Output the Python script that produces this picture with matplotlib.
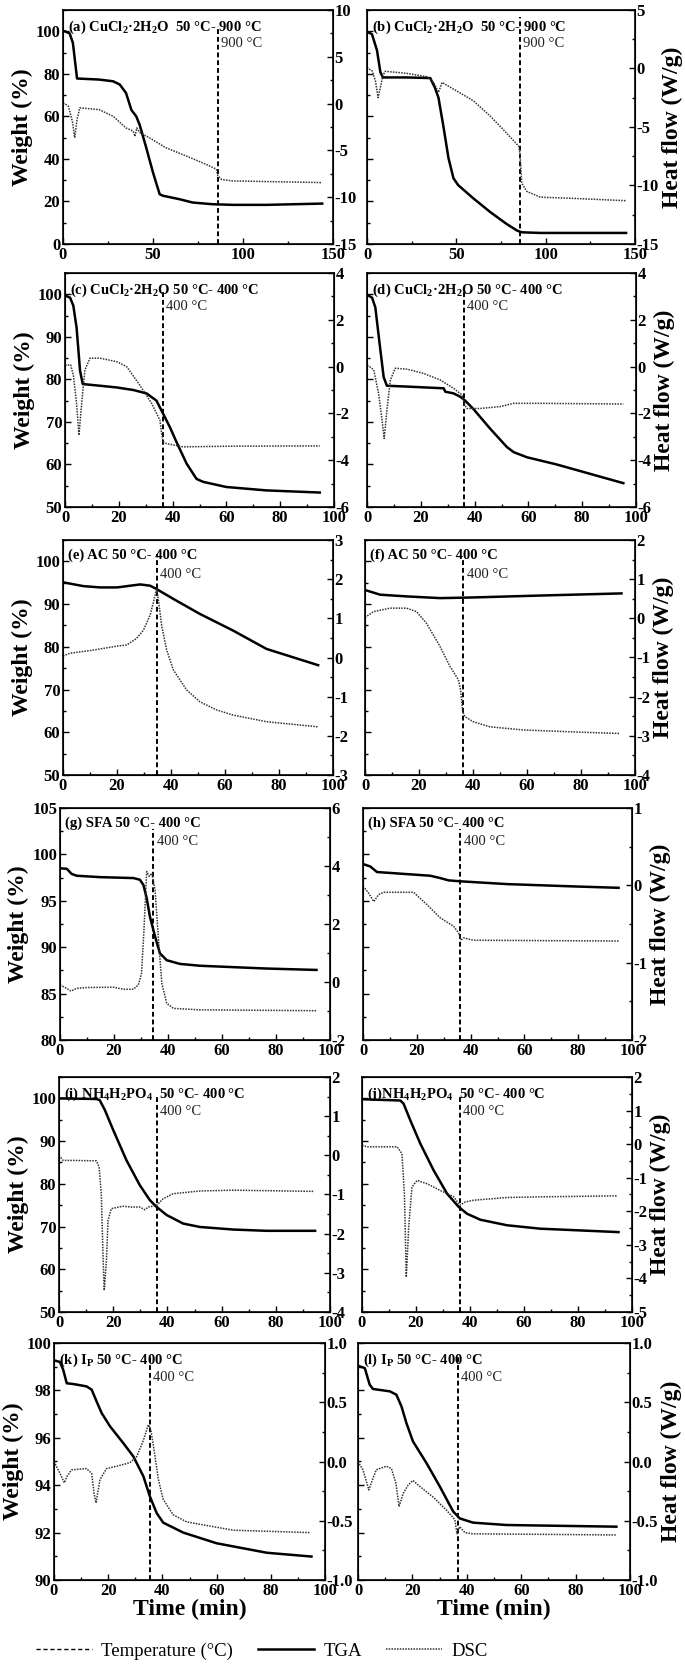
import numpy as np
import matplotlib
matplotlib.use('Agg')
import matplotlib.pyplot as plt
from matplotlib.ticker import MultipleLocator, FormatStrFormatter
from matplotlib.lines import Line2D

plt.rcParams['font.family'] = ['Liberation Serif', 'DejaVu Serif']
plt.rcParams['mathtext.fontset'] = 'custom'
plt.rcParams['mathtext.rm'] = 'Liberation Serif:bold'
plt.rcParams['mathtext.it'] = 'Liberation Serif:bold'
plt.rcParams['mathtext.bf'] = 'Liberation Serif:bold'
plt.rcParams['axes.unicode_minus'] = False

# ---------------- data ----------------
# (a)
a_tga_t = [0, 1, 3.7, 5.5, 7.8, 20, 27.8, 31.5, 35, 38, 40.7, 42.6, 46, 50, 53.7, 55.5, 65, 72, 83, 94.4, 113, 144]
a_tga_w = [100, 100, 99, 94.5, 77.8, 77.3, 76.5, 75, 71, 63, 60, 56, 46, 33.6, 23.4, 22.7, 21, 19.5, 18.7, 18.4, 18.4, 19]
a_dsc_t = [0, 1, 3, 5.2, 6.5, 7.8, 9.3, 20, 27.8, 35, 39, 40, 41, 42.6, 48, 57, 68.5, 79.6, 85.2, 86, 88, 94, 144]
a_dsc_h = [0, 0, -0.28, -1.88, -3.65, -1.7, -0.46, -0.64, -1.35, -2.6, -2.94, -3.5, -2.6, -3.1, -3.65, -4.7, -5.6, -6.5, -7.0, -7.7, -8.1, -8.26, -8.44]
# (b)
b_tga_t = [0, 1, 2.8, 5.6, 7.5, 8.9, 22, 35.4, 38, 40, 42.9, 45.6, 48.4, 51, 59.6, 69, 78, 84, 86.6, 97, 145]
b_tga_w = [99.6, 99.4, 98.6, 91, 80.7, 78.3, 78.3, 78, 73.5, 68.8, 54.6, 40.4, 30.9, 27.7, 21.4, 15, 9.5, 6.3, 5.5, 5.2, 5.2]
b_dsc_t = [0, 1, 2.8, 4.7, 6.2, 7.5, 8.9, 10.2, 22, 33.5, 37.3, 40, 42, 50, 59.6, 69, 78, 85, 85.7, 86.6, 89.4, 97, 115.5, 145]
b_dsc_h = [0.1, -0.04, -0.18, -1.04, -2.48, -1.6, -0.6, -0.24, -0.41, -0.7, -1.19, -2.05, -1.19, -1.9, -2.77, -4.07, -5.5, -6.66, -7.4, -9.8, -10.5, -11.0, -11.1, -11.3]
# (c)
c_tga_t = [0, 0.4, 1.9, 3.1, 4.3, 5.6, 6.6, 13, 19.2, 25.4, 30.3, 34, 36.5, 39, 41.5, 45.2, 48.9, 51.4, 60, 74.9, 94.7]
c_tga_w = [99.7, 99.6, 99.2, 97.3, 92.2, 82, 78.9, 78.5, 78.1, 77.5, 76.7, 75, 71.9, 68.75, 65.2, 60.2, 56.6, 55.9, 54.7, 53.9, 53.4]
c_dsc_t = [0, 0.6, 2.1, 3.1, 4.3, 5.2, 6.2, 7.4, 9.3, 13, 19.2, 22.9, 27.8, 32.2, 35.3, 35.9, 36.5, 37.7, 43.9, 62.5, 94.7]
c_dsc_h = [0.05, 0.07, 0.07, -0.36, -1.57, -2.93, -1.57, -0.14, 0.36, 0.36, 0.21, 0.0, -0.79, -1.57, -2.29, -2.86, -3.21, -3.29, -3.43, -3.4, -3.39]
# (d)
d_tga_t = [0, 0.2, 1.9, 3.1, 4.7, 6.2, 7.4, 14.9, 28.5, 29.1, 32.2, 34.7, 36.5, 39.6, 45.8, 52, 54.5, 59.4, 70.5, 82.9, 95.3]
d_tga_w = [99.8, 99.8, 99.2, 96.9, 88.3, 80.5, 78.5, 78.3, 77.9, 77.1, 76.7, 75.9, 75, 73, 68.4, 64.1, 62.9, 61.7, 60, 57.8, 55.6]
d_dsc_t = [0, 0.6, 2.5, 4.3, 5.6, 6.4, 7.4, 8.7, 10.5, 14.9, 21, 27.2, 32.2, 35.3, 36.1, 37.1, 42, 49.5, 54.5, 64.4, 95.3]
d_dsc_h = [0.03, 0.03, -0.14, -1.14, -2.29, -3.07, -1.86, -0.57, -0.07, -0.11, -0.29, -0.57, -0.93, -1.21, -1.57, -1.79, -1.79, -1.71, -1.57, -1.57, -1.6]
# (e)
e_tga_t = [0, 7.6, 13.8, 20, 28.6, 32.3, 34.7, 40.9, 50.7, 63, 75.4, 94.5]
e_tga_w = [95.1, 94.2, 93.9, 93.9, 94.6, 94.3, 93.5, 91.2, 87.7, 83.8, 79.5, 75.7]
e_dsc_t = [0, 2.7, 11.3, 20, 23.6, 27.3, 29.8, 32.3, 33.7, 34.7, 35.5, 36.6, 38.4, 40.9, 45.8, 50.7, 56.9, 63, 75.4, 94.5]
e_dsc_h = [0.04, 0.11, 0.19, 0.29, 0.32, 0.49, 0.70, 1.09, 1.47, 1.77, 1.38, 0.79, 0.19, -0.32, -0.83, -1.13, -1.34, -1.47, -1.64, -1.77]
# (f)
f_tga_t = [0, 5.6, 15.4, 27.8, 36.4, 42.6, 64.8, 95]
f_tga_w = [93.3, 92.2, 91.8, 91.4, 91.5, 91.6, 92, 92.5]
f_dsc_t = [0, 3.1, 9.3, 15.4, 19.1, 22.8, 27.8, 31.5, 34.6, 35.4, 36.2, 37, 40.1, 46.3, 58.6, 77.2, 94.2]
f_dsc_h = [0.02, 0.17, 0.26, 0.26, 0.17, -0.13, -0.72, -1.23, -1.57, -1.83, -2.38, -2.51, -2.64, -2.77, -2.85, -2.9, -2.94]
# (g)
g_tga_t = [0, 2.5, 4.3, 6.2, 14.8, 27.2, 29.6, 30.9, 32.1, 33.3, 35.2, 37, 39.5, 44.4, 51.9, 76.5, 95]
g_tga_w = [98.5, 98.45, 97.9, 97.7, 97.55, 97.45, 97.27, 96.7, 95.3, 93.3, 91.15, 89.35, 88.6, 88.2, 88.0, 87.7, 87.55]
g_dsc_t = [0, 2.5, 4, 6.2, 9.9, 19.8, 23.5, 27.2, 29, 30.2, 31.1, 32.1, 33.1, 34, 35.2, 36.4, 37.7, 39.5, 42, 51.9, 95]
g_dsc_h = [-0.1, -0.22, -0.31, -0.22, -0.19, -0.18, -0.25, -0.25, -0.1, 0.3, 1.8, 3.81, 3.64, 3.75, 3.18, 1.57, -0.04, -0.73, -0.91, -0.96, -0.99]
# (h)
h_tga_t = [0, 2.7, 5.2, 10.2, 25, 28.7, 31.8, 36.2, 53.5, 78.3, 95]
h_tga_w = [98.96, 98.7, 98.1, 98.0, 97.7, 97.45, 97.2, 97.1, 96.8, 96.55, 96.4]
h_dsc_t = [0, 2.1, 4, 5.8, 7.7, 18.8, 23.8, 28.7, 33.7, 35.6, 36.4, 37.4, 41.1, 95]
h_dsc_h = [-0.01, -0.1, -0.21, -0.12, -0.09, -0.09, -0.25, -0.42, -0.53, -0.62, -0.71, -0.68, -0.71, -0.72]
# (i)
i_tga_t = [0, 13.8, 15, 16.9, 20, 24.9, 29.8, 33.5, 36, 39.7, 45.8, 52, 64.3, 76.6, 94.5]
i_tga_w = [100, 99.85, 99.6, 97.3, 92.6, 85.5, 79.7, 76.2, 74.6, 72.7, 70.7, 69.9, 69.3, 69, 69]
i_dsc_t = [0, 1.5, 5.2, 13.8, 14.8, 15.6, 16.3, 16.7, 17.5, 18.1, 19.3, 23.6, 26.7, 29.8, 31.7, 32.9, 36, 38.4, 42.1, 52, 64.3, 93.8]
i_dsc_h = [0.0, -0.13, -0.13, -0.14, -0.3, -0.98, -2.68, -3.45, -2.68, -1.66, -1.36, -1.3, -1.32, -1.32, -1.39, -1.32, -1.28, -1.11, -0.98, -0.91, -0.89, -0.92]
# (j)
j_tga_t = [0, 14.2, 15.4, 17.9, 21.6, 26.5, 31.5, 35.8, 38.9, 43.8, 53.7, 66, 95]
j_tga_w = [99.8, 99.5, 98.75, 94.85, 89.4, 83.2, 77.7, 74.6, 73, 71.6, 70.3, 69.5, 68.7]
j_dsc_t = [0, 1.9, 13, 14.8, 15.7, 16.4, 17.3, 18.5, 20.4, 24.1, 29, 34, 36.2, 38.3, 41.4, 53.7, 66, 94.4]
j_dsc_h = [-0.03, -0.08, -0.08, -0.28, -1.47, -3.96, -2.47, -1.28, -1.08, -1.18, -1.38, -1.57, -1.82, -1.72, -1.67, -1.59, -1.57, -1.54]
# (k)
k_tga_t = [0, 2.2, 3.4, 4.7, 7.1, 12, 13.9, 15.7, 17.6, 20.7, 25.6, 29.3, 33, 35.4, 37.9, 40.3, 47.7, 60, 78.5, 95]
k_tga_w = [99.27, 99.2, 98.87, 98.3, 98.27, 98.17, 98.03, 97.54, 97.04, 96.48, 95.77, 95.21, 94.37, 93.52, 92.82, 92.42, 92.0, 91.55, 91.15, 90.99]
k_dsc_t = [0, 2.2, 3.8, 4.7, 6.5, 12, 13.9, 14.8, 15.5, 17, 19.4, 23.1, 28, 30.5, 33, 34.8, 35.7, 36.7, 38.5, 40.3, 44, 49, 56.3, 66.2, 94.5]
k_dsc_h = [0.0, -0.1, -0.18, -0.13, -0.07, -0.06, -0.1, -0.27, -0.35, -0.15, -0.06, -0.04, -0.01, 0.04, 0.18, 0.31, 0.27, 0.13, -0.15, -0.32, -0.45, -0.51, -0.54, -0.58, -0.6]
# (l)
l_tga_t = [0, 2.5, 4.3, 5.5, 11.7, 14.1, 16, 17.8, 20.2, 25.2, 30.1, 35, 37.4, 42.3, 54.6, 95]
l_tga_w = [99.04, 98.94, 98.24, 98.06, 97.96, 97.82, 97.32, 96.62, 95.85, 94.93, 93.94, 92.89, 92.6, 92.42, 92.32, 92.25]
l_dsc_t = [0, 1.8, 4, 4.9, 6.7, 10.4, 12.3, 13.9, 15.1, 16.6, 18.4, 20.2, 22.7, 27.6, 32.5, 35.6, 36.4, 37.4, 39.3, 42.3, 95]
l_dsc_h = [0.0, -0.07, -0.24, -0.18, -0.07, -0.04, -0.06, -0.18, -0.38, -0.27, -0.2, -0.16, -0.21, -0.3, -0.41, -0.49, -0.61, -0.55, -0.6, -0.61, -0.62]

titles = [r"(a) CuCl$_2$·2H$_2$O  50 °C- 900 °C", r"(b) CuCl$_2$·2H$_2$O  50 °C- 900 °C",
          r"(c) CuCl$_2$·2H$_2$O 50 °C- 400 °C", r"(d) CuCl$_2$·2H$_2$O 50 °C- 400 °C",
          "(e) AC 50 °C- 400 °C", "(f) AC 50 °C- 400 °C",
          "(g) SFA 50 °C- 400 °C", "(h) SFA 50 °C- 400 °C",
          r"(i) NH$_4$H$_2$PO$_4$  50 °C- 400 °C", r"(j)NH$_4$H$_2$PO$_4$  50 °C- 400 °C",
          r"(k) I$_\mathrm{P}$ 50 °C- 400 °C", r"(l) I$_\mathrm{P}$ 50 °C- 400 °C"]
temp_labels = ["900 °C", "900 °C", "400 °C", "400 °C", "400 °C", "400 °C",
               "400 °C", "400 °C", "400 °C", "400 °C", "400 °C", "400 °C"]
vline_t = [86.1, 85.7, 36.3, 36.1, 34.7, 36.4, 34.6, 36.2, 36.0, 36.2, 35.4, 36.8]

tga_t = [a_tga_t, b_tga_t, c_tga_t, d_tga_t, e_tga_t, f_tga_t, g_tga_t, h_tga_t, i_tga_t, j_tga_t, k_tga_t, l_tga_t]
tga_w = [a_tga_w, b_tga_w, c_tga_w, d_tga_w, e_tga_w, f_tga_w, g_tga_w, h_tga_w, i_tga_w, j_tga_w, k_tga_w, l_tga_w]
dsc_t = [a_dsc_t, b_dsc_t, c_dsc_t, d_dsc_t, e_dsc_t, f_dsc_t, g_dsc_t, h_dsc_t, i_dsc_t, j_dsc_t, k_dsc_t, l_dsc_t]
dsc_h = [a_dsc_h, b_dsc_h, c_dsc_h, d_dsc_h, e_dsc_h, f_dsc_h, g_dsc_h, h_dsc_h, i_dsc_h, j_dsc_h, k_dsc_h, l_dsc_h]

# ---------------- layout / style ----------------
W, H = 685, 1664
boxes = [(63, 10, 333, 244), (367, 10, 635, 244),
         (65, 273, 334, 507), (367, 273, 636, 507),
         (63, 540, 333, 775), (365, 540, 635, 775),
         (60, 808, 330, 1040), (363, 808, 632, 1040),
         (59, 1077, 330, 1312), (362, 1077, 632, 1312),
         (54, 1343, 325, 1580), (358, 1343, 630, 1580)]
xlims = [(0, 150)] * 2 + [(0, 100)] * 10
xmaj = [50, 50] + [20] * 10
xmin = [25, 25] + [10] * 10
wlims = [(0, 110), (0, 110), (50, 105), (50, 105), (50, 105), (50, 105),
         (80, 105), (80, 105), (50, 105), (50, 105), (90, 100), (90, 100)]
wmaj = [20, 20, 10, 10, 10, 10, 5, 5, 10, 10, 2, 2]
hlims = [(-15, 10), (-15, 5), (-6, 4), (-6, 4), (-3, 3), (-4, 2),
         (-2, 6), (-2, 1), (-4, 2), (-5, 2), (-1, 1), (-1, 1)]
hmaj = [5, 5, 2, 2, 1, 1, 2, 1, 1, 1, 0.5, 0.5]
vl_top = [0.93, 0.97, 0.92, 0.92, 0.94, 0.92, 0.91, 0.91, 0.92, 0.92, 0.94, 0.94]

fig = plt.figure(figsize=(W / 100, H / 100), dpi=100)

tick_kw = dict(direction='in', width=1.0)
for i in range(12):
    x0, y0, x1, y1 = boxes[i]
    ax = fig.add_axes([x0 / W, 1 - y1 / H, (x1 - x0) / W, (y1 - y0) / H])
    ax2 = ax.twinx()
    for s in ax.spines.values():
        s.set_linewidth(1.2)
    ax.plot(tga_t[i], tga_w[i], color='black', lw=1.8, solid_joinstyle='round')
    ax2.plot(dsc_t[i], dsc_h[i], color='#333333', lw=1.1, linestyle=(0, (1, 0.8)))
    ax.axvline(vline_t[i], ymin=0, ymax=vl_top[i], color='black', lw=1.4, linestyle=(0, (2.5, 1.5)))
    ax.set_xlim(*xlims[i])
    ax.set_ylim(*wlims[i])
    ax2.set_ylim(*hlims[i])
    ax.xaxis.set_major_locator(MultipleLocator(xmaj[i]))
    ax.xaxis.set_minor_locator(MultipleLocator(xmin[i]))
    ax.yaxis.set_major_locator(MultipleLocator(wmaj[i]))
    ax.yaxis.set_minor_locator(MultipleLocator(wmaj[i] / 2))
    ax2.yaxis.set_major_locator(MultipleLocator(hmaj[i]))
    ax2.yaxis.set_minor_locator(MultipleLocator(hmaj[i] / 2))
    if hmaj[i] == 0.5:
        ax2.yaxis.set_major_formatter(FormatStrFormatter('%.1f'))
    ax.tick_params(which='major', length=4, **tick_kw)
    ax.tick_params(which='minor', length=2.5, **tick_kw)
    ax2.tick_params(which='major', length=4, **tick_kw)
    ax2.tick_params(which='minor', length=2.5, **tick_kw)
    ax.tick_params(axis='both', which='major', labelsize=12, pad=2)
    ax2.tick_params(axis='y', which='major', labelsize=12, pad=1)
    for lab in ax.get_xticklabels() + ax.get_yticklabels() + ax2.get_yticklabels():
        lab.set_fontweight('bold')
    if i % 2 == 0:
        ax.set_ylabel('Weight (%)', fontsize=17, fontweight='bold', labelpad=2)
    else:
        ax.tick_params(axis='y', labelleft=False)
        ax2.set_ylabel('Heat flow (W/g)', fontsize=17, fontweight='bold', labelpad=2)
    if i >= 10:
        ax.set_xlabel('Time (min)', fontsize=17, fontweight='bold', labelpad=0)
    ax.text(0.02, 0.965, titles[i], transform=ax.transAxes, ha='left', va='top',
            fontsize=10.5, fontweight='bold')
    ax.text(vline_t[i] + (xlims[i][1] - xlims[i][0]) * 0.012, wlims[i][0] + (wlims[i][1] - wlims[i][0]) * 0.855,
            temp_labels[i], ha='left', va='center', fontsize=10.5, color='#222222')

handles = [Line2D([], [], color='black', lw=1.0, linestyle=(0, (3, 2))),
           Line2D([], [], color='black', lw=1.8),
           Line2D([], [], color='#333333', lw=1.1, linestyle=(0, (1, 0.8)))]
fig.legend(handles, ['Temperature (°C)', 'TGA', 'DSC'], loc='center',
           bbox_to_anchor=(262 / W, 1 - 1651 / H), ncol=3, frameon=False,
           fontsize=13.5, handlelength=3.0, handletextpad=0.5, columnspacing=1.3)

fig.savefig('out.png', dpi=100)
